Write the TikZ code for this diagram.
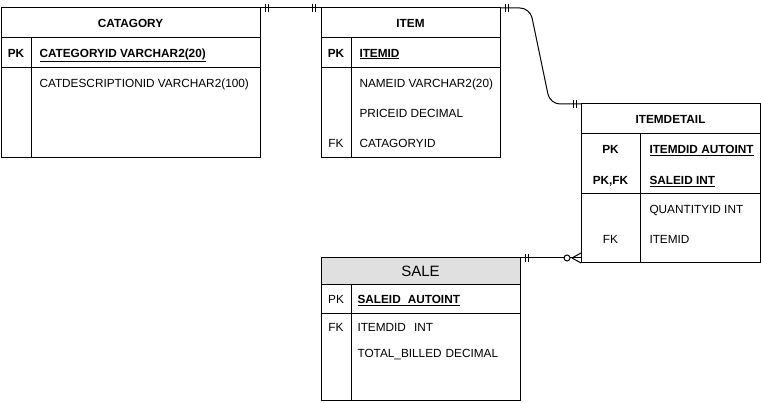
\documentclass[tikz,border=0pt]{standalone}
\usepackage{fontspec}
\setmainfont{Liberation Sans}
\usetikzlibrary{calc}
\definecolor{hdrgray}{RGB}{224,224,224}
\begin{document}
\begin{tikzpicture}[x=1pt,y=-1pt, line width=1pt,
  tbl/.style={draw, inner sep=0pt, outer sep=0pt, line width=1pt},
  txt/.style={anchor=west, inner sep=0pt, text height=8.6pt, text depth=0pt, font=\fontsize{11.8}{14}\selectfont},
  ctr/.style={txt, anchor=center},
  bld/.style={txt, font=\fontsize{11.8}{14}\selectfont\bfseries},
  hdr/.style={ctr, font=\fontsize{11.8}{14}\selectfont\bfseries},
  bar/.style={line width=1pt}]

\useasboundingbox (0,0) rectangle (761,403);

% ---------- CATAGORY ----------
\node[tbl, minimum width=259pt, minimum height=150pt] (cat) at (130.5,83) {};
\draw (1,38) -- (260,38);
\draw (1,68) -- (260,68);
\draw (31,38) -- (31,158);
\node[hdr] (catH) at (130.5,23) {CATAGORY};
\node[hdr] (catPK) at (16,53) {PK};
\node[bld] (catPKf) at (39,53) {\underline{CATEGORYID VARCHAR2(20)}};
\node[txt] (catD) at (39,83) {CATDESCRIPTIONID VARCHAR2(100)};

% ---------- ITEM ----------
\node[tbl, minimum width=179pt, minimum height=150pt] (item) at (410.5,83) {};
\draw (321,38) -- (500,38);
\draw (321,68) -- (500,68);
\draw (351,38) -- (351,158);
\node[hdr] (itemH) at (410.5,23) {ITEM};
\node[hdr] (itemPK) at (336,53) {PK};
\node[bld] (itemPKf) at (359,53) {\underline{ITEMID}};
\node[txt] (itemN) at (359,83) {NAMEID VARCHAR2(20)};
\node[txt] (itemP) at (359,113) {PRICEID DECIMAL};
\node[ctr] (itemFK) at (336,143) {FK};
\node[txt] (itemC) at (359,143) {CATAGORYID};

% ---------- ITEMDETAIL ----------
\node[tbl, minimum width=179pt, minimum height=159pt] (idet) at (670.5,183.5) {};
\draw (581,134) -- (760,134);
\draw (581,194) -- (760,194);
\draw (640,134) -- (640,263);
\node[hdr] (idetH) at (670.5,119) {ITEMDETAIL};
\node[hdr] (idetPK) at (610.5,149) {PK};
\node[bld] (idetPKf) at (649,149) {\underline{ITEMDID AUTOINT}};
\node[hdr] (idetPKFK) at (610.5,180) {PK,FK};
\node[bld] (idetS) at (649,180) {\underline{SALEID INT}};
\node[txt] (idetQ) at (649,209) {QUANTITYID INT};
\node[ctr] (idetFK) at (610.5,239) {FK};
\node[txt] (idetI) at (649,239) {ITEMID};

% ---------- SALE ----------
\fill[hdrgray] (321,258) rectangle (520,285);
\node[tbl, minimum width=199pt, minimum height=143pt] (sale) at (420.5,329.5) {};
\draw (321,285) -- (520,285);
\draw (321,314) -- (520,314);
\draw (351,285) -- (351,401);
\node[ctr, font=\fontsize{15}{17}\selectfont, text height=10.7pt] (saleH) at (420.5,271.5) {SALE};
\node[ctr] (salePK) at (336,299.5) {PK};
\node[bld] (salePKf) at (357,299.5) {\underline{SALEID\hspace{7pt}AUTOINT}};
\node[ctr] (saleFK) at (336,327) {FK};
\node[txt] (saleI) at (357,327) {ITEMDID\hspace{8pt}INT};
\node[txt] (saleT) at (357,353) {TOTAL\_BILLED\hspace{4pt}DECIMAL};

% ---------- connectors ----------
% CATAGORY -- ITEM (one to one)
\draw (cat.north east) -- (item.north west);
\draw[bar] ($(cat.north east)+(5,-4)$) -- ++(0,8);
\draw[bar] ($(cat.north east)+(8,-4)$) -- ++(0,8);
\draw[bar] ($(item.north west)+(-9,-4)$) -- ++(0,8);
\draw[bar] ($(item.north west)+(-6,-4)$) -- ++(0,8);

% ITEM -- ITEMDETAIL
\draw[rounded corners=10pt] (item.north east) -- ($(item.north east)+(30,0)$) -- ($(idet.north west)+(-31,0)$) -- (idet.north west);
\draw[bar] ($(item.north east)+(5,-4)$) -- ++(0,8);
\draw[bar] ($(item.north east)+(8,-4)$) -- ++(0,8);
\draw[bar] ($(idet.north west)+(-8,-4)$) -- ++(0,8);
\draw[bar] ($(idet.north west)+(-5,-4)$) -- ++(0,8);

% SALE -- ITEMDETAIL (one to zero-or-many)
\coordinate (c3) at (idet.west |- sale.north east);
\draw (sale.north east) -- (c3);
\draw[bar] ($(sale.north east)+(5,-4)$) -- ++(0,8);
\draw[bar] ($(sale.north east)+(8,-4)$) -- ++(0,8);
\draw ($(c3)+(-9,0)$) -- ($(c3)+(0,-5)$);
\draw ($(c3)+(-9,0)$) -- ($(c3)+(0,5)$);
\draw[fill=white] ($(c3)+(-14,0)$) circle (3pt);
\end{tikzpicture}
\end{document}
